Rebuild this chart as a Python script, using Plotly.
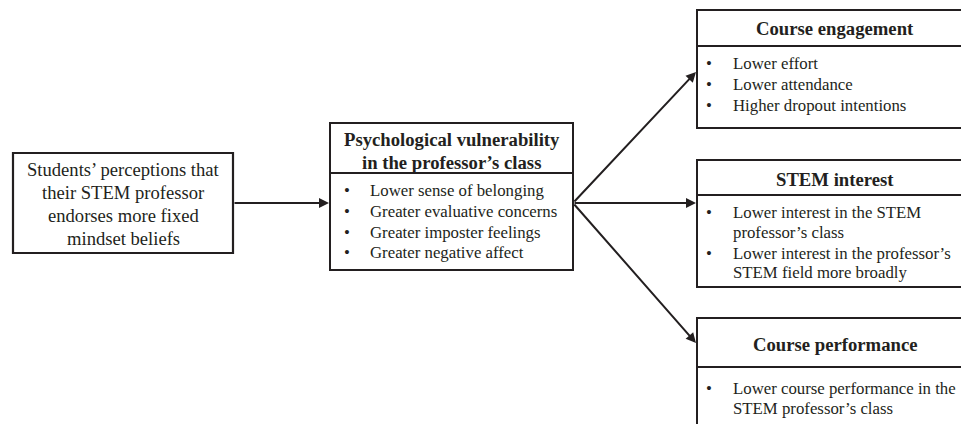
import plotly.graph_objects as go

# ---- content ----
source_lines = ["Students’ perceptions that", "their STEM professor",
                "endorses more fixed", "mindset beliefs"]
mediator_title = ["Psychological vulnerability", "in the professor’s class"]
mediator_items = ["Lower sense of belonging", "Greater evaluative concerns",
                  "Greater imposter feelings", "Greater negative affect"]
outcome_titles = ["Course engagement", "STEM interest", "Course performance"]
outcome_items = [
    [["Lower effort"], ["Lower attendance"], ["Higher dropout intentions"]],
    [["Lower interest in the STEM", "professor’s class"],
     ["Lower interest in the professor’s", "STEM field more broadly"]],
    [["Lower course performance in the", "STEM professor’s class"]],
]

# ---- layout geometry (page pixel space) ----
W, H = 961, 424
INK = "#231f20"
SERIF = "Liberation Serif, Times New Roman, serif"

src_box = dict(x0=13, x1=233, y0=153, y1=253)
src_line_y = [169, 192, 215, 238]

med_box = dict(x0=330, x1=573, y0=123, y1=270, div=173)
med_title_y = [139, 162]
med_item_y = [190, 211, 232, 252]

out_boxes = [
    dict(x0=697, x1=975, y0=10, y1=128, div=46, ty=28, tip=72,
         line_y=[63, 84, 105]),
    dict(x0=697, x1=975, y0=160, y1=287, div=195, ty=179, tip=203,
         line_y=[212, 232, 253, 272]),
    dict(x0=697, x1=975, y0=318, y1=445, div=367, ty=344, tip=343,
         line_y=[388, 408]),
]

fig = go.Figure()
shapes, anns = [], []

def rect(b, lw=2):
    shapes.append(dict(type="rect", xref="x", yref="y", x0=b["x0"], x1=b["x1"],
                       y0=b["y0"], y1=b["y1"], line=dict(color=INK, width=lw),
                       fillcolor="rgba(0,0,0,0)"))

def hline(x0, x1, y, lw=2):
    shapes.append(dict(type="line", xref="x", yref="y", x0=x0, x1=x1, y0=y, y1=y,
                       line=dict(color=INK, width=lw)))

def text(x, y, s, size, bold=False, anchor="center"):
    anns.append(dict(x=x, y=y, xref="x", yref="y", text=f"<b>{s}</b>" if bold else s,
                     showarrow=False, xanchor=anchor, yanchor="middle",
                     font=dict(family=SERIF, size=size, color=INK)))

def arrow(x0, y0, x1, y1):
    anns.append(dict(x=x1, y=y1, ax=x0, ay=y0, xref="x", yref="y", axref="x", ayref="y",
                     text="", showarrow=True, arrowhead=2, arrowsize=1.0,
                     arrowwidth=2, arrowcolor=INK, standoff=0, startstandoff=0))

# source box
rect(src_box, 2.2)
cx = (src_box["x0"] + src_box["x1"]) / 2
for s, y in zip(source_lines, src_line_y):
    text(cx, y, s, 18.6)

# mediator box
rect(med_box)
hline(med_box["x0"], med_box["x1"], med_box["div"])
cx = (med_box["x0"] + med_box["x1"]) / 2
for s, y in zip(mediator_title, med_title_y):
    text(cx, y, s, 18.7, bold=True)
for s, y in zip(mediator_items, med_item_y):
    text(347, y, "•", 16.8)
    text(368, y, s, 16.8, anchor="left")

# outcome boxes
for b, title, items in zip(out_boxes, outcome_titles, outcome_items):
    rect(b)
    hline(b["x0"], b["x1"], b["div"])
    text(835, b["ty"], title, 18.7, bold=True)
    k = 0
    for item in items:
        for j, line in enumerate(item):
            y = b["line_y"][k]
            if j == 0:
                text(709, y, "•", 16.8)
            text(731, y, line, 16.8, anchor="left")
            k += 1

# arrows
arrow(src_box["x1"], 203, med_box["x0"] - 1, 203)
for b in out_boxes:
    arrow(med_box["x1"], 203, b["x0"] - 1, b["tip"])

fig.update_layout(
    width=W, height=H, margin=dict(l=0, r=0, t=0, b=0),
    paper_bgcolor="white", plot_bgcolor="white",
    xaxis=dict(range=[0, W], visible=False, fixedrange=True),
    yaxis=dict(range=[H, 0], visible=False, fixedrange=True),
    shapes=shapes, annotations=anns, showlegend=False,
)
fig.write_html(
    "out.html",
    config={"displayModeBar": False, "staticPlot": True},
    post_script="document.documentElement.style.overflow='hidden';"
                "document.body.style.margin='0px';"
                "document.body.style.overflow='hidden';",
)
